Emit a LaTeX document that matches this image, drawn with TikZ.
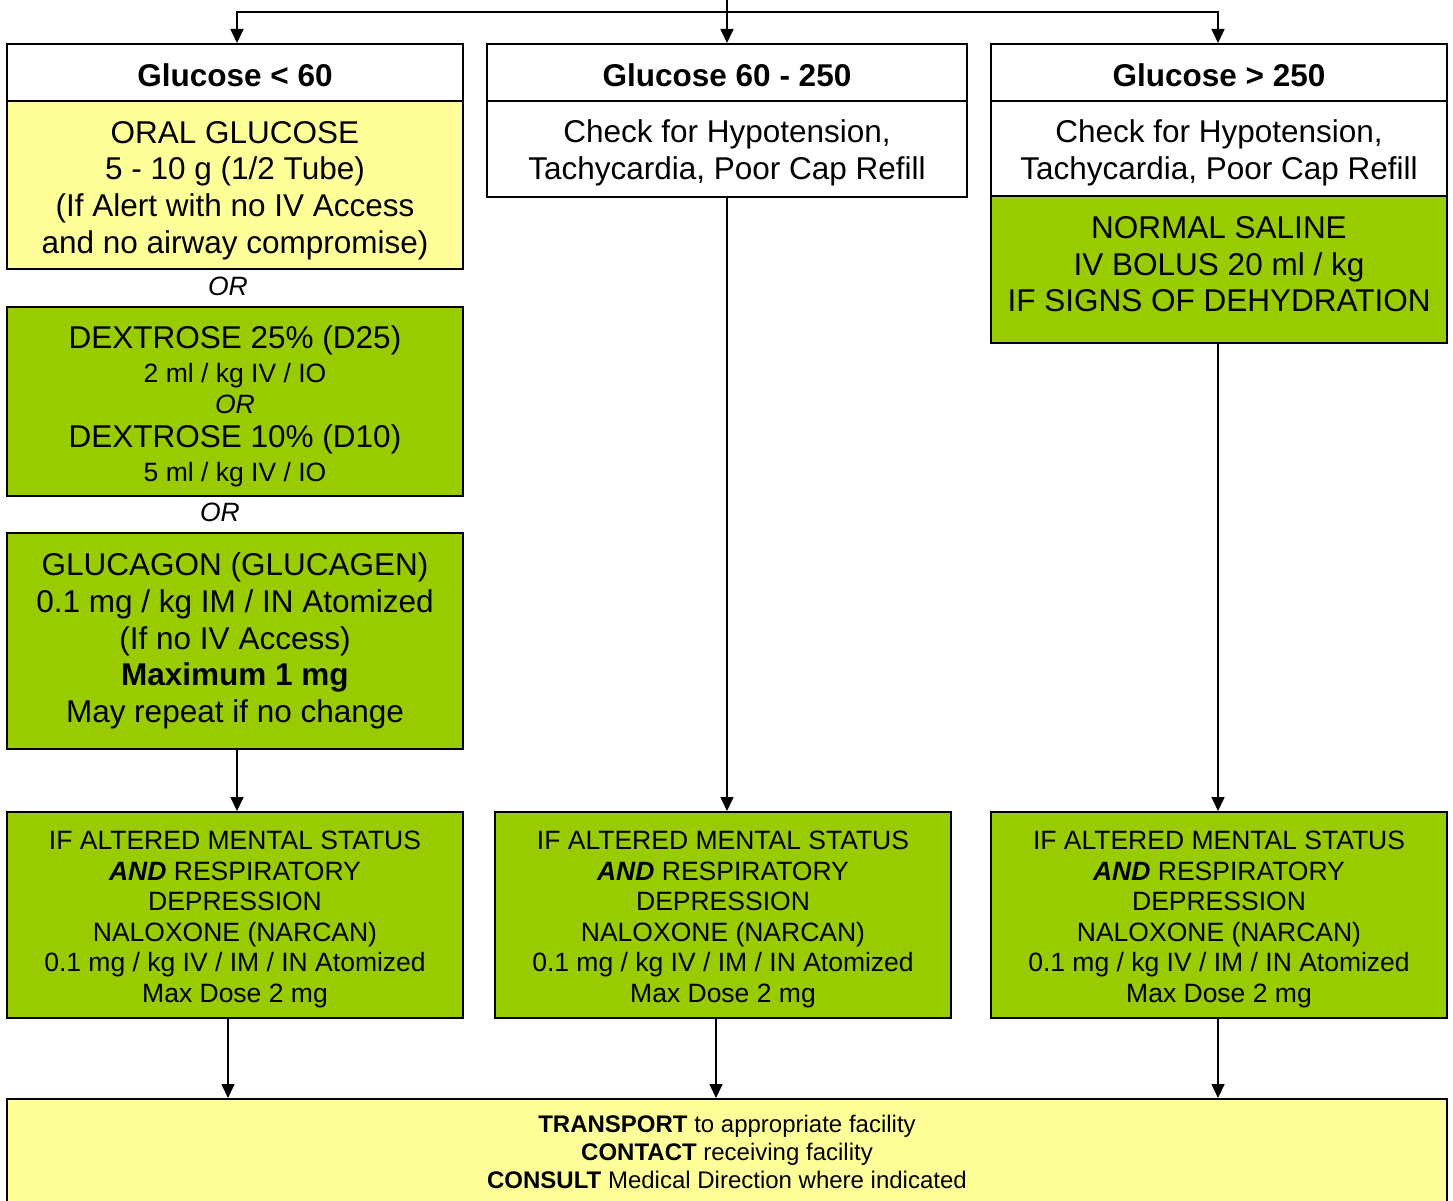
\documentclass[tikz,border=0pt]{standalone}
\usepackage{fontspec}
\setmainfont{Liberation Sans}
\usetikzlibrary{arrows.meta,calc}
\definecolor{gr}{HTML}{99CC00}
\definecolor{yl}{HTML}{FFFF99}
\newcommand\smfnt{\fontsize{26.5}{34}\selectfont}
% invisible struts that push a node's text down by half their extra height
\newcommand\pushby[1]{\rule{0pt}{#1}}
\tikzset{
  bx/.style={draw=black, line width=2pt, rectangle, inner sep=0pt, align=center, text=black},
  big/.style={font=\fontsize{31.5}{36.6}\selectfont},
  dex/.style={font=\fontsize{31.5}{34}\selectfont},
  sml/.style={font=\fontsize{26.5}{30.5}\selectfont},
  fin/.style={font=\fontsize{24}{28}\selectfont},
  txt/.style={inner sep=0pt, align=center, text=black},
  arr/.style={line width=1.6pt, -{Triangle[length=14pt,width=13pt]}},
  ln/.style={line width=1.6pt},
}
\begin{document}
\begin{tikzpicture}[x=1pt,y=-1pt]
\useasboundingbox (0,0) rectangle (1453,1201);
\clip (0,0) rectangle (1453,1201);
\fill[white] (0,0) rectangle (1453,1201);

% ---------- column 1 ----------
\node[bx, big, minimum width=456pt, minimum height=57pt] (h1) at (235,72.5) {\pushby{29pt}\textbf{Glucose < 60}};
\node[bx, big, fill=yl, minimum width=456pt, minimum height=168pt] (oral) at (235,185)
  {\pushby{33pt}ORAL GLUCOSE\\5 - 10 g (1/2 Tube)\\(If Alert with no IV Access\\and no airway compromise)};
\node[txt, sml] (or1) at (228,286) {\itshape OR};
\node[bx, dex, fill=gr, minimum width=456pt, minimum height=189pt] (dex) at (235,401.5)
  {\pushby{33pt}DEXTROSE 25\% (D25)\\{\smfnt 2 ml / kg IV / IO}\\[-3pt]{\smfnt\itshape OR}\\DEXTROSE 10\% (D10)\\{\smfnt 5 ml / kg IV / IO}};
\node[txt, sml] (or2) at (220,512) {\itshape OR};
\node[bx, big, fill=gr, minimum width=456pt, minimum height=216pt] (glu) at (235,641)
  {GLUCAGON (GLUCAGEN)\\0.1 mg / kg IM / IN Atomized\\(If no IV Access)\\\textbf{Maximum 1 mg}\\May repeat if no change};
\node[bx, sml, fill=gr, minimum width=456pt, minimum height=206pt] (nal1) at (235,915)
  {\pushby{27.5pt}IF ALTERED MENTAL STATUS\\\textbf{\textit{AND}} RESPIRATORY\\DEPRESSION\\NALOXONE (NARCAN)\\0.1 mg / kg IV / IM / IN Atomized\\Max Dose 2 mg};

% ---------- column 2 ----------
\node[bx, big, minimum width=480pt, minimum height=57pt] (h2) at (727,72.5) {\pushby{29pt}\textbf{Glucose 60 - 250}};
\node[bx, big, minimum width=480pt, minimum height=96pt] (chk2) at (727,149)
  {\pushby{31pt}Check for Hypotension,\\Tachycardia, Poor Cap Refill};
\node[bx, sml, fill=gr, minimum width=456pt, minimum height=206pt] (nal2) at (723,915)
  {\pushby{27.5pt}IF ALTERED MENTAL STATUS\\\textbf{\textit{AND}} RESPIRATORY\\DEPRESSION\\NALOXONE (NARCAN)\\0.1 mg / kg IV / IM / IN Atomized\\Max Dose 2 mg};

% ---------- column 3 ----------
\node[bx, big, minimum width=456pt, minimum height=57pt] (h3) at (1219,72.5) {\pushby{29pt}\textbf{Glucose > 250}};
\node[bx, big, minimum width=456pt, minimum height=95pt] (chk3) at (1219,148.5)
  {\pushby{31pt}Check for Hypotension,\\Tachycardia, Poor Cap Refill};
\node[bx, fill=gr, minimum width=456pt, minimum height=147pt] (sal) at (1219,269.5) {};
\node[txt, big] (saltext) at ($(sal.center)+(0,-5)$)
  {NORMAL SALINE\\IV BOLUS 20 ml / kg\\IF SIGNS OF DEHYDRATION};
\node[bx, sml, fill=gr, minimum width=456pt, minimum height=206pt] (nal3) at (1219,915)
  {\pushby{27.5pt}IF ALTERED MENTAL STATUS\\\textbf{\textit{AND}} RESPIRATORY\\DEPRESSION\\NALOXONE (NARCAN)\\0.1 mg / kg IV / IM / IN Atomized\\Max Dose 2 mg};

% ---------- bottom ----------
\node[bx, fin, fill=yl, minimum width=1440pt, minimum height=106pt] (final) at (727,1152)
  {\textbf{TRANSPORT} to appropriate facility\\\textbf{CONTACT} receiving facility\\\textbf{CONSULT} Medical Direction where indicated};

% ---------- connectors ----------
\coordinate (top) at (727,-2);
\coordinate (j) at (727,12);
\draw[ln] (top) -- (j);
\draw[arr] (j) -| ([xshift=2pt]h1.north);
\draw[arr] (j) -- (h2.north);
\draw[arr] (j) -| ([xshift=-1pt]h3.north);
\draw[arr] ([xshift=2pt]glu.south) -- ([xshift=2pt]nal1.north);
\draw[arr] (chk2.south) -- (chk2.south |- nal2.north);
\draw[arr] ([xshift=-1pt]sal.south) -- ([xshift=-1pt]nal3.north);
\draw[arr] ([xshift=-7pt]nal1.south) -- ([xshift=-7pt]nal1.south |- final.north);
\draw[arr] ([xshift=-7pt]nal2.south) -- ([xshift=-7pt]nal2.south |- final.north);
\draw[arr] ([xshift=-1pt]nal3.south) -- ([xshift=-1pt]nal3.south |- final.north);
\end{tikzpicture}
\end{document}
